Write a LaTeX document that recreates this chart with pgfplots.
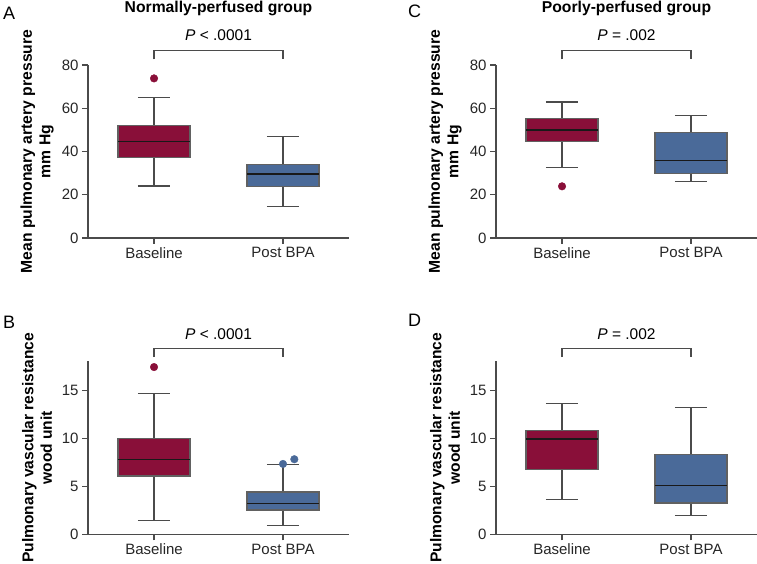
\documentclass[border=0pt]{standalone}
\usepackage{fontspec}
\setmainfont{Liberation Sans}
\usepackage{pgfplots}
\pgfplotsset{compat=1.18}
\definecolor{crim}{RGB}{137,15,57}
\definecolor{pblue}{RGB}{74,106,153}
\definecolor{axgray}{RGB}{75,75,75}

\pgfplotsset{
  panel/.style={
    scale only axis, width=261pt, height=173pt,
    xmin=0.488, xmax=2.512, ymin=0,
    axis x line=bottom, axis y line=left,
    axis line style={-, draw=axgray, line width=1.1pt},
    every tick/.style={draw=axgray, line width=1.1pt},
    tick align=outside, major tick length=6pt,
    xtick={1,2}, xticklabels={Baseline, Post BPA},
    ticklabel style={font=\fontsize{15}{18}\selectfont, text=black!85},
    /pgf/number format/assume math mode=true,
    clip=false,
  },
  wh/.style={draw=axgray, line width=1.2pt, mark=none},
  outl/.style={only marks, mark=*, mark size=3.8pt, mark options={fill=#1, draw=#1}},
}
\tikzset{
  ylab/.style={rotate=90, align=center, inner sep=0pt,
    font=\fontsize{15.7}{18.5}\selectfont\bfseries},
  ylabb/.style={rotate=90, align=center, inner sep=0pt,
    font=\fontsize{15.6}{18.5}\selectfont\bfseries},
  ptext/.style={anchor=base, font=\fontsize{15.5}{18}\selectfont},
  ttl/.style={anchor=base, font=\fontsize{15.7}{18}\selectfont\bfseries},
  letter/.style={anchor=base west, inner sep=0pt, font=\fontsize{18}{20}\selectfont},
}

% #1 position, #2 lower whisker, #3 Q1, #4 median, #5 Q3, #6 upper whisker, #7 colour
\newcommand{\onebox}[7]{%
  \pgfmathsetmacro\xl{#1-0.279}%
  \pgfmathsetmacro\xr{#1+0.279}%
  \pgfmathsetmacro\cl{#1-0.125}%
  \pgfmathsetmacro\cR{#1+0.125}%
  \edef\temp{%
    \noexpand\addplot[wh] coordinates {(#1,#2) (#1,#3)};
    \noexpand\addplot[wh] coordinates {(#1,#5) (#1,#6)};
    \noexpand\addplot[wh] coordinates {(\cl,#2) (\cR,#2)};
    \noexpand\addplot[wh] coordinates {(\cl,#6) (\cR,#6)};
    \noexpand\addplot[fill=#7, draw=black!62, line width=1.2pt, mark=none]
      coordinates {(\xl,#3) (\xr,#3) (\xr,#5) (\xl,#5) (\xl,#3)} --cycle;
    \noexpand\addplot[draw=black!90, line width=1.3pt, mark=none] coordinates {(\xl,#4) (\xr,#4)};
  }\temp
}

\begin{document}
\begin{tikzpicture}
\useasboundingbox (0pt,0pt) rectangle (757pt,564pt);

% Panel letters
\node[letter] at (3pt,544pt) {A};
\node[letter] at (408pt,546pt) {C};
\node[letter] at (3pt,235pt) {B};
\node[letter] at (408pt,237pt) {D};

% ---------- Panel A ----------
\begin{axis}[panel, at={(88pt,326pt)}, anchor=south west,
  ymax=80, ytick={0,20,40,60,80}]
\onebox{1}{24}{37.3}{44.6}{52.1}{65}{crim}
\onebox{2}{14.7}{23.9}{29.6}{33.9}{46.8}{pblue}
\addplot[outl=crim] coordinates {(1,73.8)};
\draw[axgray, line width=1.1pt] (axis cs:1,82.6) -- (axis cs:1,86.9) -- (axis cs:2,86.9) -- (axis cs:2,82.6);
\node[ptext] at (axis cs:1.5,91.2) {\textit{P} < .0001};
\node[ttl] at ([yshift=52pt]rel axis cs:0.5,1) {Normally-perfused group};
\node[ylab] at ([xshift=-51pt]rel axis cs:0,0.5) {Mean pulmonary artery pressure\\mm Hg};
\end{axis}

% ---------- Panel C ----------
\begin{axis}[panel, at={(496pt,326pt)}, anchor=south west,
  ymax=80, ytick={0,20,40,60,80}]
\onebox{1}{32.7}{44.5}{49.9}{55.2}{62.9}{crim}
\onebox{2}{26}{29.7}{35.9}{48.9}{56.6}{pblue}
\addplot[outl=crim] coordinates {(1,23.9)};
\draw[axgray, line width=1.1pt] (axis cs:1,82.6) -- (axis cs:1,86.9) -- (axis cs:2,86.9) -- (axis cs:2,82.6);
\node[ptext] at (axis cs:1.5,91.2) {\textit{P} = .002};
\node[ttl] at ([yshift=52pt]rel axis cs:0.5,1) {Poorly-perfused group};
\node[ylab] at ([xshift=-51pt]rel axis cs:0,0.5) {Mean pulmonary artery pressure\\mm Hg};
\end{axis}

% ---------- Panel B ----------
\begin{axis}[panel, at={(88pt,29.7pt)}, anchor=south west,
  ymax=18, ytick={0,5,10,15}]
\onebox{1}{1.42}{6.07}{7.77}{10.0}{14.65}{crim}
\onebox{2}{0.9}{2.53}{3.23}{4.4}{7.25}{pblue}
\addplot[outl=crim] coordinates {(1,17.4)};
\addplot[outl=pblue] coordinates {(2,7.32) (2.088,7.81)};
\draw[axgray, line width=1.1pt] (axis cs:1,18.44) -- (axis cs:1,19.375) -- (axis cs:2,19.375) -- (axis cs:2,18.44);
\node[ptext] at (axis cs:1.5,20.3) {\textit{P} < .0001};
\node[ylabb] at ([xshift=-51pt]rel axis cs:0,0.5) {Pulmonary vascular resistance\\wood unit};
\end{axis}

% ---------- Panel D ----------
\begin{axis}[panel, at={(496pt,29.7pt)}, anchor=south west,
  ymax=18, ytick={0,5,10,15}]
\onebox{1}{3.6}{6.73}{9.9}{10.83}{13.64}{crim}
\onebox{2}{1.98}{3.26}{5.1}{8.29}{13.19}{pblue}
\draw[axgray, line width=1.1pt] (axis cs:1,18.44) -- (axis cs:1,19.375) -- (axis cs:2,19.375) -- (axis cs:2,18.44);
\node[ptext] at (axis cs:1.5,20.3) {\textit{P} = .002};
\node[ylabb] at ([xshift=-51pt]rel axis cs:0,0.5) {Pulmonary vascular resistance\\wood unit};
\end{axis}
\end{tikzpicture}
\end{document}
